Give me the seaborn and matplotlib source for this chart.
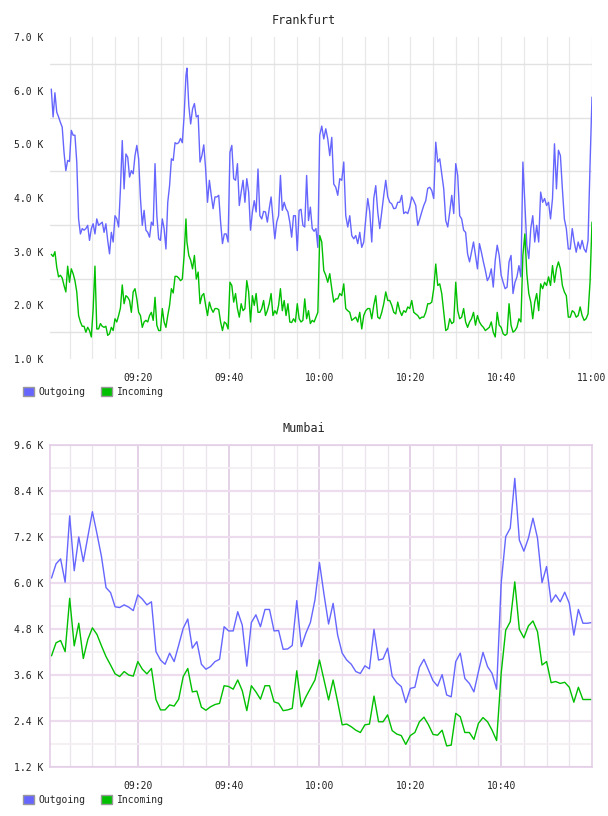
import pandas as pd
import matplotlib
matplotlib.use("Agg")
import matplotlib.pyplot as plt
import matplotlib.dates as mdates
from matplotlib.patches import Patch
from matplotlib.ticker import FixedLocator, FuncFormatter, MultipleLocator
import seaborn as sns

DAY = "2024-01-01 "

# Frankfurt traffic (bytes), ~25-30 s samples, read in four half-hour stretches
fra_outgoing = [
    6030, 5510, 5960, 5600, 5510, 5410, 5320, 4850, 4510, 4700, 4680, 5260, 5170, 5170, 4670,
    3610, 3330, 3430, 3400, 3430, 3490, 3210, 3430, 3520, 3330, 3610, 3490, 3520, 3550, 3360,
    3520, 3210, 2960, 3360, 3180, 3670, 3610, 3460, 4170, 5070, 4170, 4820, 4760, 4390, 4510,
    4450, 4790, 4980, 4730, 3990, 3490, 3770, 3400, 3360, 3270, 3550, 3490, 4640, 3670, 3240,
    3210, 3610, 3430, 3050, 3920, 4230, 4730, 4700, 5030, 5010, 5030, 5110, 5030, 5540, 6280,
    6420, 5720, 5380, 5660, 5760, 5510, 5540, 4670, 4790, 4990, 4540, 3920, 4330, 4050, 3800,
    4020, 4020, 4050, 3550, 3150, 3330, 3330, 3180, 4850, 4980, 4360, 4330, 4640, 3860, 4110,
    4330, 3920, 4360, 4110, 3400, 3740, 3950, 3740, 4540, 3670, 3610, 3750, 3740, 3550, 3800,
    4020, 3610, 3240, 3550, 3670, 4420, 3770, 3920, 3800, 3740, 3550, 3270, 3670, 3670, 3020,
    3770, 3790, 3490, 3460, 4420, 3580, 3830, 3430, 3380, 3430, 3080, 5170,
    5340, 5100, 5290, 5100, 4790, 5130, 4260, 4200, 4050, 4360, 4330, 4670, 3670, 3460, 3670,
    3300, 3240, 3300, 3150, 3360, 3080, 3180, 3610, 3990, 3740, 3180, 3990, 4230, 3740, 3430,
    3740, 4050, 4330, 4020, 3920, 3890, 3800, 3810, 3920, 3920, 4050, 3710, 3740, 3710, 3830,
    4020, 3950, 3860, 3490, 3610, 3740, 3860, 3950, 4180, 4200, 4140, 3990, 5040, 4670, 4730,
    4450, 4170, 3580, 3460, 3740, 4050, 3710, 4640,
    4420, 3670, 3610, 3400, 3360, 2960, 2810, 2990, 3180, 2930, 2680, 3150, 2990, 2810, 2650,
    2460, 2530, 2680, 2340, 2840, 3120, 2930, 2560, 2430, 2310, 2340, 2810, 2930, 2220, 2430,
    2530, 2740, 2530, 4670, 3890, 3120, 2870, 3430, 3670, 3180, 3490, 3180, 4110, 3920, 3990,
    3860, 3920, 3610, 3990, 5010, 4170, 4890, 4790, 4170, 3610, 3430, 3050, 3050, 3430, 3180,
    2990, 3180, 3050, 3210, 3050, 2990, 3210, 4610, 5880,
]
fra_incoming = [
    2950, 2910, 3000, 2710, 2530, 2560, 2510, 2370, 2250, 2730, 2430, 2680, 2590, 2460, 2250,
    1810, 1690, 1610, 1610, 1500, 1590, 1530, 1410, 1930, 2730, 1560, 1560, 1660, 1610, 1590,
    1610, 1440, 1470, 1590, 1530, 1750, 1690, 1810, 1950, 2380, 2030, 2180, 2150, 2090, 1870,
    2250, 2310, 2120, 1870, 1810, 1590, 1690, 1720, 1690, 1810, 1870, 1720, 2150, 1630, 1530,
    1530, 1940, 1690, 1590, 1810, 2000, 2310, 2230, 2540, 2540, 2510, 2460, 2490, 2930, 3610,
    3180, 2930, 2840, 2680, 2930, 2490, 2620, 2030, 2180, 2220, 2000, 1810, 2060, 1940, 1870,
    1940, 1940, 1920, 1690, 1530, 1690, 1660, 1560, 2430, 2370, 2060, 2220, 1940, 1780, 2030,
    1900, 1940, 2460, 2250, 1690, 2180, 2000, 2220, 1870, 1870, 1940, 2090, 1810, 1900, 2030,
    2220, 1810, 1900, 1840, 2000, 2310, 1900, 2090, 1810, 2030, 1690, 1680, 1750, 1690, 2030,
    1750, 1690, 1720, 2120, 1750, 1900, 1660, 1720, 1690, 1780, 1870, 3300,
    3180, 2650, 2560, 2430, 2590, 2310, 2060, 2120, 2120, 2220, 2180, 2400, 1940, 1900, 1870,
    1720, 1750, 1780, 1690, 1870, 1560, 1810, 1900, 1940, 1940, 1750, 2000, 2180, 1780, 1750,
    1870, 2030, 2250, 2090, 2090, 2000, 1870, 1840, 2060, 1900, 1810, 1900, 1870, 1970, 1940,
    2090, 1870, 1840, 1810, 1750, 1780, 1780, 1870, 2030, 2030, 2060, 2310, 2770, 2370, 2400,
    2220, 1870, 1530, 1560, 1750, 1660, 1690, 2430,
    1900, 1750, 1780, 1940, 1690, 1590, 1690, 1750, 1870, 1630, 1810, 1690, 1630, 1590, 1530,
    1560, 1590, 1690, 1500, 1410, 1870, 1630, 1590, 1470, 1440, 1470, 2030, 1630, 1500, 1530,
    1590, 1750, 1690, 2930, 3330, 2590, 2220, 2060, 1750, 2060, 2220, 1900, 2400, 2310, 2430,
    2370, 2530, 2370, 2740, 2430, 2680, 2810, 2680, 2370, 2250, 2180, 1780, 1780, 1900, 1870,
    1780, 1810, 1970, 1810, 1720, 1750, 1840, 2430, 3550,
]
# time span and sample count of each stretch of the Frankfurt lists
fra_seg_start = ["09:00:57", "09:30:49", "10:00:30", "10:30:26"]
fra_seg_end = ["09:30:36", "10:00:03", "10:30:00", "11:00:00"]
fra_seg_len = [75, 72, 68, 69]

# Mumbai traffic (bytes), 1 min samples from 09:01 to 11:00
bom_outgoing = [
    6130, 6500, 6630, 6020, 7750, 6320, 7200, 6560, 7210, 7860, 7290, 6690, 5880, 5750, 5380,
    5360, 5430, 5370, 5280, 5690, 5580, 5430, 5510,
    4210, 3990, 3880, 4170, 3950, 4380, 4820, 5060, 4300, 4470, 3880, 3750, 3820, 3950, 4010,
    4860, 4750, 4750, 5250, 4900, 3830, 4970, 5170, 4860, 5310, 5310, 4750, 4760, 4270, 4280,
    4370, 5540, 4340, 4690, 4970,
    5560, 6530, 5700, 4930, 5470, 4640, 4170, 3990, 3880, 3690, 3640, 3840, 3760, 4790, 3990,
    4020, 4300, 3570, 3400, 3300, 2880, 3250, 3280, 3800, 4010, 3730, 3450, 3310, 3610, 3080,
    3030, 3950, 4170, 3510, 3380, 3160, 3690, 4190, 3820, 3640, 3230, 5990, 7210, 7430, 8730,
    7120, 6830, 7170, 7690, 7170, 6010, 6430, 5500, 5690, 5510, 5760, 5470, 4640, 5310, 4950,
    4950, 4970,
]
bom_incoming = [
    4100, 4440, 4500, 4210, 5600, 4360, 4950, 4030, 4530, 4830, 4660, 4360, 4080, 3860, 3630,
    3560, 3690, 3600, 3570, 3950, 3750, 3630, 3770,
    2960, 2690, 2690, 2820, 2790, 2970, 3560, 3770, 3160, 3180, 2760, 2680, 2770, 2830, 2860,
    3320, 3300, 3230, 3470, 3190, 2670, 3320, 3160, 2970, 3320, 3320, 2900, 2860, 2670, 2690,
    2730, 3710, 2770, 3030, 3250,
    3470, 3990, 3470, 2950, 3470, 2900, 2300, 2320, 2250, 2160, 2100, 2300, 2320, 3050, 2380,
    2380, 2560, 2150, 2060, 2020, 1790, 2020, 2100, 2380, 2500, 2300, 2050, 2030, 2160, 1750,
    1770, 2600, 2510, 2100, 2100, 1920, 2340, 2490, 2380, 2160, 1890, 3640, 4770, 4990, 6030,
    4790, 4570, 4880, 5010, 4730, 3860, 3950, 3400, 3430, 3380, 3410, 3280, 2890, 3280, 2960,
    2960, 2960,
]

fra_ticks = ["09:20", "09:40", "10:00", "10:20", "10:40", "11:00"]
bom_ticks = ["09:20", "09:40", "10:00", "10:20", "10:40"]

colors = {"Outgoing": "#6666ff", "Incoming": "#00c000"}


def seg_times(starts, ends, lens):
    parts = [pd.date_range(DAY + s, DAY + e, periods=n) for s, e, n in zip(starts, ends, lens)]
    return parts[0].append(parts[1:])


def make_frame(times, outgoing, incoming):
    parts = []
    for name, vals in (("Outgoing", outgoing), ("Incoming", incoming)):
        n = min(len(times), len(vals))
        parts.append(pd.DataFrame({"time": times[:n], "bytes": vals[:n], "direction": name}))
    return pd.concat(parts, ignore_index=True)


def k_fmt(v, pos):
    return f"{v / 1000:.1f} K"


sns.set_style("white")
plt.rcParams["font.family"] = ["DejaVu Sans Mono"]

W, H = 608, 816
fig = plt.figure(figsize=(W / 100, H / 100), dpi=100)


def draw_panel(top_px, title, df, ticks, ymin, ymax, ystep, pink):
    ax = fig.add_axes([50 / W, 1 - (top_px + 322) / H, 542 / W, 322 / H])
    sns.lineplot(data=df, x="time", y="bytes", hue="direction", palette=colors,
                 lw=1.0, ax=ax, legend=False)
    ax.set_xlim(pd.Timestamp(DAY + "09:00:40"), pd.Timestamp(DAY + "11:00"))
    ax.set_ylim(ymin, ymax)
    ax.set_xlabel("")
    ax.set_ylabel("")

    ax.xaxis.set_major_locator(FixedLocator(mdates.date2num(pd.to_datetime([DAY + t for t in ticks]))))
    ax.xaxis.set_major_formatter(mdates.DateFormatter("%H:%M"))
    ax.xaxis.set_minor_locator(mdates.MinuteLocator(byminute=range(0, 60, 5)))
    ax.yaxis.set_major_locator(MultipleLocator(ystep))
    ax.yaxis.set_minor_locator(MultipleLocator(ystep / 2))
    ax.yaxis.set_major_formatter(FuncFormatter(k_fmt))
    ax.tick_params(which="both", length=0, labelsize=7, colors="#222222")
    ax.tick_params(axis="x", pad=10)
    ax.tick_params(axis="y", pad=5)

    if pink:
        ax.yaxis.grid(True, which="major", color="#eddcee", lw=1.6)
        ax.yaxis.grid(True, which="minor", color="#f2eef2", lw=1.2)
        ax.xaxis.grid(True, which="minor", color="#ebe4ec", lw=0.9)
        ax.xaxis.grid(True, which="major", color="#dcc6df", lw=1.1)
        for s in ax.spines.values():
            s.set_color("#e4cfe6")
            s.set_linewidth(1.2)
    else:
        ax.yaxis.grid(True, which="minor", color="#e2e2e2", lw=1.0)
        ax.yaxis.grid(False, which="major")
        ax.xaxis.grid(True, which="both", color="#e8e8e8", lw=0.9)
        for s in ax.spines.values():
            s.set_visible(False)
    ax.set_axisbelow(True)

    fig.text(0.5, 1 - (top_px - 17) / H, title, ha="center", va="center", fontsize=8.5)
    handles = [Patch(facecolor=colors[n], edgecolor="#999999", lw=1.0, label=n)
               for n in ("Outgoing", "Incoming")]
    fig.legend(handles=handles, loc="center left", ncol=2, frameon=False,
               bbox_to_anchor=(23 / W, 1 - (top_px + 355) / H), fontsize=7,
               handlelength=1.1, handleheight=1.1, handletextpad=0.5,
               columnspacing=1.6, borderaxespad=0, borderpad=0)
    return ax


fra_times = seg_times(fra_seg_start, fra_seg_end, fra_seg_len)
bom_times = pd.date_range(DAY + "09:01", DAY + "11:00", periods=len(bom_outgoing))

fra = make_frame(fra_times, fra_outgoing, fra_incoming)
bom = make_frame(bom_times, bom_outgoing, bom_incoming)

draw_panel(37, "Frankfurt", fra, fra_ticks, 1000, 7000, 1000, pink=False)
draw_panel(445, "Mumbai", bom, bom_ticks, 1200, 9600, 1200, pink=True)

fig.savefig("out.png", dpi=100)
